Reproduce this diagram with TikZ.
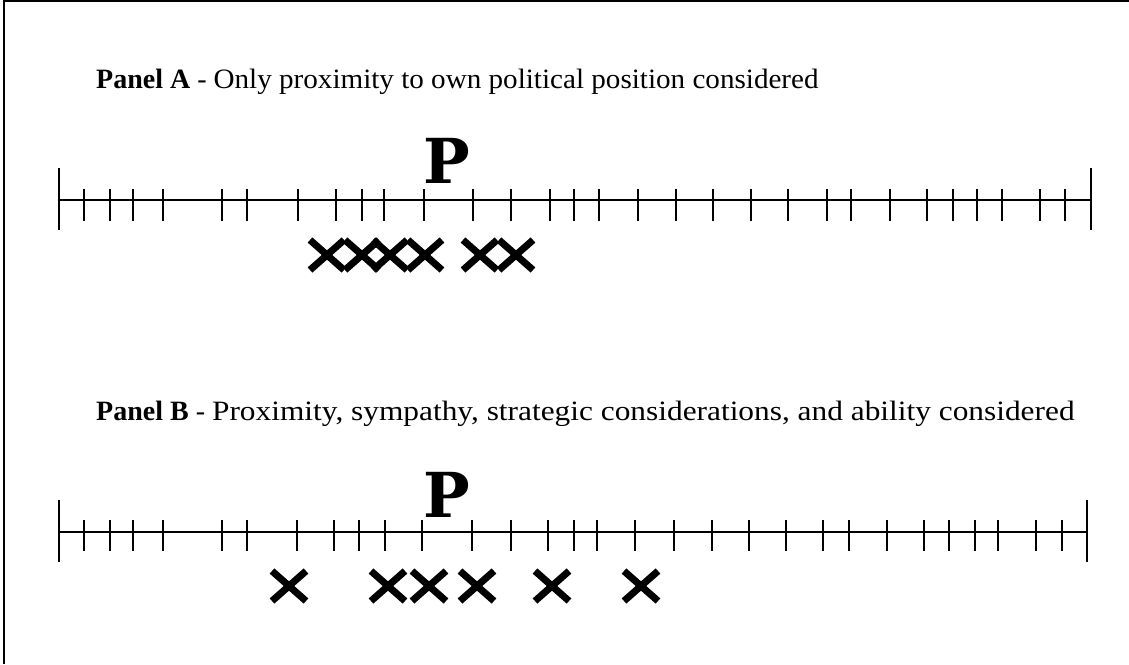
\documentclass[tikz,border=0pt]{standalone}
\usepackage{fontspec}
\setmainfont{Liberation Serif}
\newfontfamily\pfont{DejaVu Serif}
\begin{document}
\begin{tikzpicture}[x=1pt,y=-1pt,
  frameline/.style={line width=2pt},
  axisline/.style={line width=2pt},
  tickmark/.style={line width=2.6pt},
  endbar/.style={line width=2.6pt},
  xmark/.style={line width=7pt},
  title/.style={anchor=base west, inner sep=0pt, font=\fontsize{28}{32}\selectfont},
  pnode/.style={anchor=base west, inner sep=0pt, font=\pfont\bfseries\fontsize{62}{70}\selectfont}]
\useasboundingbox (0,0) rectangle (1129,664);
% frame (left and top edges visible)
\coordinate (fbl) at (3.5,664);
\coordinate (ftl) at (3.5,1);
\coordinate (ftr) at (1129,1);
\draw[frameline] (fbl) -- (ftl) -- (ftr);

% Panel A
\node[title] (ta) at (96,88) {\textbf{Panel A} - \scalebox{1.04}[1]{Only proximity to own political position considered}};
\coordinate (a0) at (59,200);
\coordinate (a1) at (1091,200);
\draw[axisline] (a0) -- (a1);
\draw[endbar] (59,168) -- (59,230);
\draw[endbar] (1091,168) -- (1091,230);
\foreach \x in {84,110,133,163,222,247,298,336,362,384,424,473,511,550,574,599,638,676,713,751,788,827,851,890,927,953,977,1002,1040,1065}
  \draw[tickmark] (\x,189) -- (\x,221);
\node[pnode] (pa) at (423,183) {P};
\foreach \c in {327,362,390,425,480,516}
  \draw[xmark] ({\c-17},240) -- ({\c+17},270) ({\c-17},270) -- ({\c+17},240);

% Panel B
\node[title] (tb) at (96,420) {\textbf{Panel B} - \scalebox{1.12}[1]{Proximity, sympathy, strategic considerations, and ability considered}};
\coordinate (b0) at (59,532);
\coordinate (b1) at (1087,532);
\draw[axisline] (b0) -- (b1);
\draw[endbar] (59,500) -- (59,562);
\draw[endbar] (1087,500) -- (1087,562);
\foreach \x in {84,110,133,163,222,247,297,334,359,385,422,472,511,548,574,597,635,674,712,749,786,823,849,887,924,949,975,998,1036,1062}
  \draw[tickmark] (\x,520) -- (\x,551);
\node[pnode] (pb) at (423,517) {P};
\foreach \c in {289,388,429,477,552,641}
  \draw[xmark] ({\c-17},571) -- ({\c+17},601) ({\c-17},601) -- ({\c+17},571);
\end{tikzpicture}
\end{document}
